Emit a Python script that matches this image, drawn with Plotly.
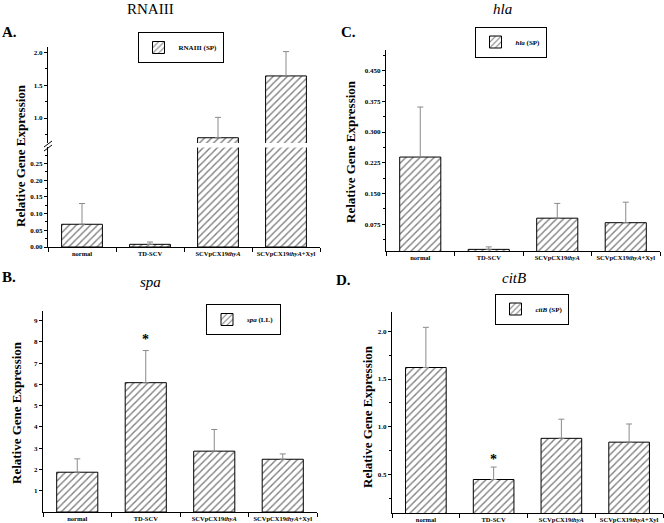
import plotly.graph_objects as go

W, H = 664, 523

categories = ["normal", "TD-SCV", "SCVpCX19<i>thyA</i>", "SCVpCX19<i>thyA</i>+Xyl"]

rnaiii_vals = [0.068, 0.008, 0.70, 1.64]
rnaiii_err = [0.062, 0.007, 0.31, 0.37]

hla_vals = [0.239, 0.014, 0.090, 0.079]
hla_err = [0.122, 0.006, 0.036, 0.050]

spa_vals = [1.87, 6.08, 2.86, 2.48]
spa_err = [0.63, 1.51, 1.02, 0.25]
spa_ticks = [1, 2, 3, 4, 5, 6, 7, 8, 9]

citb_vals = [1.62, 0.45, 0.88, 0.84]
citb_err = [0.42, 0.13, 0.20, 0.19]

SERIF = "Liberation Serif"

def px(x):
    return x / W

def py(y):
    return 1 - y / H

def bar(vals, errs, xa, ya, name, legend, showlegend=True):
    return go.Bar(
        x=categories, y=vals, xaxis=xa, yaxis=ya, name=name,
        legend=legend, showlegend=showlegend, width=0.6,
        marker=dict(color="white", line=dict(color="black", width=1),
                    pattern=dict(shape="/", fgcolor="black", bgcolor="white",
                                 size=5, solidity=0.28)),
        error_y=dict(type="data", array=errs, arrayminus=[0] * len(errs),
                     symmetric=False, color="#8a8a8a", thickness=1, width=3),
    )

fig = go.Figure()
fig.add_trace(bar(rnaiii_vals, rnaiii_err, "x", "y", "RNAIII (SP)", "legend"))
fig.add_trace(bar(rnaiii_vals, rnaiii_err, "x", "y2", "RNAIII (SP)", "legend", False))
fig.add_trace(bar(hla_vals, hla_err, "x2", "y3", "<i>hla</i> (SP)", "legend2"))
fig.add_trace(bar(spa_vals, spa_err, "x3", "y4", "<i>spa</i> (LL)", "legend3"))
fig.add_trace(bar(citb_vals, citb_err, "x4", "y5", "<i>citB</i> (SP)", "legend4"))

tickfont = dict(family=SERIF, size=7, color="black", weight="bold")
xtickfont = dict(family=SERIF, size=6.5, color="black", weight="bold")

def xax(domain, anchor):
    return dict(domain=domain, anchor=anchor, showline=True, linecolor="black",
                linewidth=1, ticks="outside", ticklen=4, tickcolor="black",
                tickson="boundaries", showgrid=False, zeroline=False,
                tickangle=0, tickfont=xtickfont, range=[-0.5, 3.5],
                fixedrange=True, automargin=False)

def yax(domain, anchor, rng, dtick, tick0=0, fmt=None, minor=True):
    d = dict(domain=domain, anchor=anchor, range=rng, showline=True,
             linecolor="black", linewidth=1, ticks="outside", ticklen=3,
             tickcolor="black", showgrid=False, zeroline=False, dtick=dtick,
             tick0=tick0, tickfont=tickfont, automargin=False)
    if minor:
        d["minor"] = dict(ticks="outside", ticklen=2, tickcolor="black",
                          dtick=dtick / 2, tick0=tick0, showgrid=False)
    if fmt:
        d["tickformat"] = fmt
    return d

yax4 = yax([py(512), py(311)], "x3", [0, 9.45], 1, minor=False)
yax4["tickmode"] = "array"
yax4["tickvals"] = spa_ticks

fig.update_layout(
    width=W, height=H,
    margin=dict(l=0, r=0, t=0, b=0, pad=0, autoexpand=False),
    paper_bgcolor="white", plot_bgcolor="white", barmode="group",
    xaxis=xax([px(48), px(320)], "y"),
    yaxis=yax([py(247), py(147.4)], "x", [0, 0.298], 0.05, fmt=".2f"),
    yaxis2=yax([py(143), py(47)], "x", [0.62, 2.08], 0.5, fmt=".1f"),
    xaxis2=xax([px(386), px(660)], "y3"),
    yaxis3=yax([py(251), py(50)], "x2", [0.01, 0.5], 0.075, fmt=".3f"),
    xaxis3=xax([px(43), px(317)], "y4"),
    yaxis4=yax4,
    xaxis4=xax([px(392), px(663)], "y5"),
    yaxis5=yax([py(513), py(312)], "x4", [0.1, 2.2], 0.5, fmt=".1f"),
)

legfont = dict(family=SERIF, size=7, color="black", weight="bold")
def leg(xc, yc):
    return dict(x=px(xc), y=py(yc), xanchor="center", yanchor="middle",
                bgcolor="white", bordercolor="black", borderwidth=1,
                font=legfont, itemwidth=30, tracegroupgap=0)

fig.update_layout(
    legend=leg(180.5, 47.5),
    legend2=leg(510.5, 42),
    legend3=leg(243.5, 319.5),
    legend4=leg(531.5, 309),
)

annotations = []
def txt(x, y, s, size, bold=False, italic=False, xanchor="center"):
    font = dict(family=SERIF, size=size, color="black")
    if bold:
        font["weight"] = "bold"
    if italic:
        font["style"] = "italic"
    annotations.append(dict(x=px(x), y=py(y), xref="paper", yref="paper",
                            text=s, showarrow=False, font=font,
                            xanchor=xanchor, yanchor="middle"))

txt(150, 9, "RNAIII", 15)
txt(502, 9, "hla", 15, italic=True)
txt(150, 282, "spa", 15, italic=True)
txt(514, 278, "citB", 15, italic=True)
txt(0, 32, "A.", 15, bold=True, xanchor="left")
txt(339, 32, "C.", 15, bold=True, xanchor="left")
txt(0, 277, "B.", 15, bold=True, xanchor="left")
txt(334, 280, "D.", 15, bold=True, xanchor="left")

for xc, yc in [(20, 156), (350, 152), (16, 413), (367, 417)]:
    annotations.append(dict(x=px(xc), y=py(yc), xref="paper", yref="paper",
                            text="Relative Gene Expression", showarrow=False,
                            textangle=-90, xanchor="center", yanchor="middle",
                            font=dict(family=SERIF, size=13, color="black",
                                      weight="bold")))

# significance asterisks
annotations.append(dict(x="TD-SCV", y=8.1, xref="x3", yref="y4", text="*",
                        showarrow=False,
                        font=dict(family=SERIF, size=14, color="black", weight="bold")))
annotations.append(dict(x="TD-SCV", y=0.66, xref="x4", yref="y5", text="*",
                        showarrow=False,
                        font=dict(family=SERIF, size=14, color="black", weight="bold")))

fig.update_layout(annotations=annotations)

# axis break marks on panel A
shapes = []
for dy in (0, 4):
    shapes.append(dict(type="line", xref="paper", yref="paper",
                       x0=px(44), x1=px(52), y0=py(147 + dy), y1=py(141 + dy),
                       line=dict(color="black", width=1)))
fig.update_layout(shapes=shapes)

fig.write_html(
    "out.html",
    config={"displayModeBar": False},
    post_script="document.body.style.margin='0';document.body.style.overflow='hidden';",
)
